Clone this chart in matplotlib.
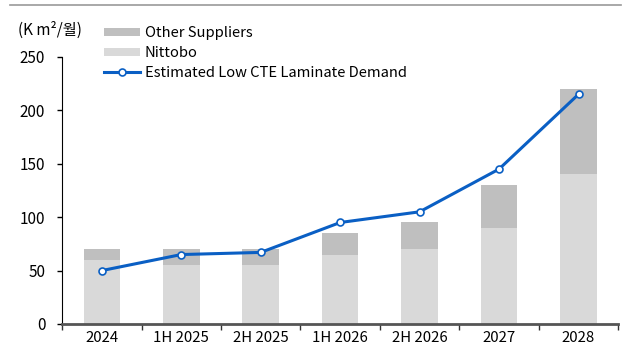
import numpy as np
import matplotlib.pyplot as plt
from matplotlib.lines import Line2D

plt.rcParams['font.family'] = ['Noto Sans CJK KR', 'DejaVu Sans']

# Data
categories = ["2024", "1H 2025", "2H 2025", "1H 2026", "2H 2026", "2027", "2028"]
nittobo = [60, 55, 55, 65, 70, 90, 140]
others = [10, 15, 15, 20, 25, 40, 80]
demand = [50, 65, 67, 95, 105, 145, 215]

x = np.arange(len(categories))

fig = plt.figure(figsize=(6.4, 3.6), dpi=100)
ax = fig.add_axes([0.097, 0.1, 0.869, 0.742])

b1 = ax.bar(x, nittobo, width=0.46, color="#d9d9d9", label="Nittobo", zorder=2)
b2 = ax.bar(x, others, width=0.46, bottom=nittobo, color="#bfbfbf", label="Other Suppliers", zorder=2)
ln, = ax.plot(x, demand, color="#0a5fc4", lw=2.2, marker="o", ms=5, mfc="white", mec="#0a5fc4",
              mew=1.2, label="Estimated Low CTE Laminate Demand", zorder=3)

ax.set_xlim(-0.5, 6.5)
ax.set_ylim(0, 250)
ax.set_yticks([0, 50, 100, 150, 200, 250])
ax.set_xticks(x)
ax.set_xticklabels(categories)
ax.set_xticks(np.arange(-0.5, 7, 1), minor=True)
ax.tick_params(axis="x", which="major", length=0, labelsize=10.8, pad=5)
ax.tick_params(axis="x", which="minor", length=4.5, width=1, color="#333333", direction="out")
ax.tick_params(axis="y", length=3.6, width=1, labelsize=11, pad=8.5)

for s in ["top", "right"]:
    ax.spines[s].set_visible(False)
ax.spines["bottom"].set_color("#555555")
ax.spines["bottom"].set_linewidth(2)
ax.spines["left"].set_color("black")

ax.legend([b2, b1, ln], ["Other Suppliers", "Nittobo", "Estimated Low CTE Laminate Demand"],
          loc="upper left", bbox_to_anchor=(0.163, 0.927), bbox_transform=fig.transFigure,
          frameon=False, fontsize=10.6, handlelength=2.45, handleheight=0.5,
          handletextpad=0.3, labelspacing=0.4, borderaxespad=0, borderpad=0)

fig.text(0.028, 0.915, "(K m²/월)", fontsize=11, va="center", ha="left")
fig.add_artist(Line2D([0.016, 0.97], [0.986, 0.986], transform=fig.transFigure,
                      color="#999999", lw=1.2))

fig.savefig("out.png", dpi=100)
